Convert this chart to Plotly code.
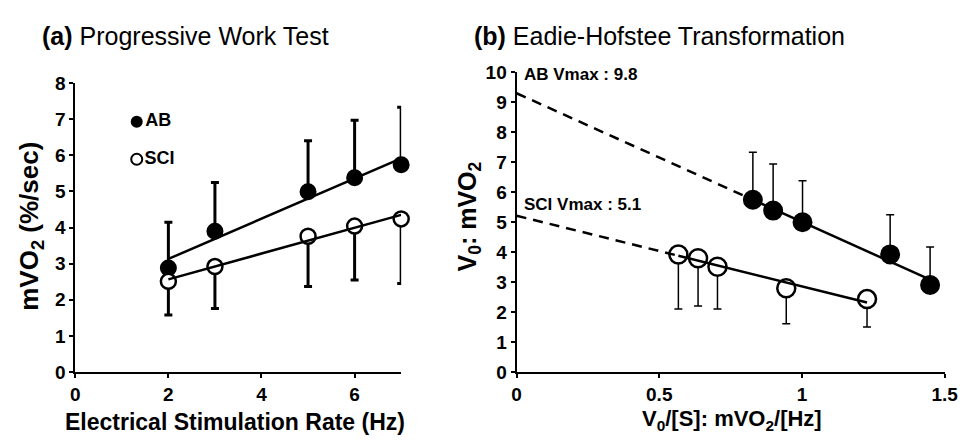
import numpy as np
import plotly.graph_objects as go

# ---------- data ----------
rate_hz = [2, 3, 5, 6, 7]
ab_vo2 = [2.88, 3.90, 4.99, 5.38, 5.74]
ab_err_up = [1.27, 1.35, 1.41, 1.59, 1.59]
sci_vo2 = [2.51, 2.92, 3.76, 4.04, 4.24]
sci_err_down = [0.93, 1.16, 1.39, 1.49, 1.79]

ab_vs = [0.828, 0.899, 1.002, 1.309, 1.449]
ab_v = [5.74, 5.38, 4.99, 3.92, 2.90]
ab_v_err_up = [1.58, 1.55, 1.38, 1.32, 1.27]
sci_vs = [0.567, 0.636, 0.704, 0.945, 1.228]
sci_v = [3.92, 3.79, 3.51, 2.79, 2.43]
sci_v_err_down = [1.82, 1.59, 1.41, 1.18, 0.93]

xa_ticks = [0, 2, 4, 6]
ya_ticks = list(range(9))
xb_ticks = [0, 0.5, 1, 1.5]
xb_ticktext = ["0", "0.5", "1", "1.5"]
yb_ticks = list(range(11))

ab_vmax_label = "AB Vmax : 9.8"
sci_vmax_label = "SCI Vmax : 5.1"

FONT = "Liberation Sans, Arial, sans-serif"
TICK = 19
zeros = [0] * 5

fig = go.Figure()


def fit(x, y):
    s, b = np.polyfit(x, y, 1)
    return s, b


def bold(labels):
    return [f"<b>{t}</b>" for t in labels]


# ---------- panel (a) ----------
fig.add_trace(go.Scatter(
    x=rate_hz, y=ab_vo2, mode="markers", name="AB", xaxis="x", yaxis="y",
    marker=dict(size=15, color="black", line=dict(color="black", width=2)),
    error_y=dict(type="data", symmetric=False, array=ab_err_up, arrayminus=zeros,
                 color="black", thickness=3, width=4),
    cliponaxis=False, showlegend=False))
fig.add_trace(go.Scatter(
    x=rate_hz, y=sci_vo2, mode="markers", name="SCI", xaxis="x", yaxis="y",
    marker=dict(size=15, color="white", line=dict(color="black", width=2.5)),
    error_y=dict(type="data", symmetric=False, array=zeros, arrayminus=sci_err_down,
                 color="black", thickness=3, width=4),
    cliponaxis=False, showlegend=False))
for y in (ab_vo2, sci_vo2):
    s, b = fit(rate_hz, y)
    xs = [min(rate_hz), max(rate_hz)]
    fig.add_trace(go.Scatter(x=xs, y=[s * v + b for v in xs], mode="lines",
                             xaxis="x", yaxis="y", line=dict(color="black", width=2.5),
                             showlegend=False, hoverinfo="skip", cliponaxis=False))

# legend symbols for panel (a)
fig.add_trace(go.Scatter(x=[1.32], y=[6.93], mode="markers+text", text=["<b>AB</b>"],
                         textposition="middle right", xaxis="x", yaxis="y",
                         textfont=dict(family=FONT, size=18, color="black"),
                         marker=dict(size=12, color="black"), showlegend=False,
                         hoverinfo="skip"))
fig.add_trace(go.Scatter(x=[1.32], y=[5.89], mode="markers+text", text=["<b>SCI</b>"],
                         textposition="middle right", xaxis="x", yaxis="y",
                         textfont=dict(family=FONT, size=18, color="black"),
                         marker=dict(size=11, color="white", line=dict(color="black", width=2)),
                         showlegend=False, hoverinfo="skip"))

# ---------- panel (b) ----------
fig.add_trace(go.Scatter(
    x=ab_vs, y=ab_v, mode="markers", xaxis="x2", yaxis="y2",
    marker=dict(size=18, color="black", line=dict(color="black", width=2)),
    error_y=dict(type="data", symmetric=False, array=ab_v_err_up, arrayminus=zeros,
                 color="black", thickness=1.5, width=4),
    cliponaxis=False, showlegend=False))
fig.add_trace(go.Scatter(
    x=sci_vs, y=sci_v, mode="markers", xaxis="x2", yaxis="y2",
    marker=dict(size=18, color="white", line=dict(color="black", width=2.5)),
    error_y=dict(type="data", symmetric=False, array=zeros, arrayminus=sci_v_err_down,
                 color="black", thickness=1.5, width=4),
    cliponaxis=False, showlegend=False))
for xv, yv in ((ab_vs, ab_v), (sci_vs, sci_v)):
    s, b = fit(xv, yv)
    xs = [min(xv), max(xv)]
    fig.add_trace(go.Scatter(x=xs, y=[s * v + b for v in xs], mode="lines",
                             xaxis="x2", yaxis="y2", line=dict(color="black", width=2.5),
                             showlegend=False, hoverinfo="skip", cliponaxis=False))
    xd = [0, min(xv)]
    fig.add_trace(go.Scatter(x=xd, y=[s * v + b for v in xd], mode="lines",
                             xaxis="x2", yaxis="y2",
                             line=dict(color="black", width=2.5, dash="10px,7px"),
                             showlegend=False, hoverinfo="skip", cliponaxis=False))


def axis(**kw):
    d = dict(showline=True, linecolor="black", linewidth=2, ticks="outside",
             ticklen=4, tickwidth=2, tickcolor="black", showgrid=False,
             zeroline=False, tickfont=dict(family=FONT, size=TICK, color="black"),
             fixedrange=True, tickmode="array")
    d.update(kw)
    return d


fig.update_layout(
    width=975, height=444, margin=dict(l=0, r=0, t=0, b=0),
    font=dict(family=FONT, size=TICK, color="black"),
    paper_bgcolor="white", plot_bgcolor="white", showlegend=False,
    xaxis=axis(domain=[0.0735, 0.4144], range=[0, 7], tickvals=xa_ticks,
               ticktext=bold(xa_ticks), anchor="y"),
    yaxis=axis(domain=[0.1441, 0.8273], range=[0, 8], tickvals=ya_ticks,
               ticktext=bold(ya_ticks), anchor="x"),
    xaxis2=axis(domain=[0.5351, 0.9829], range=[0, 1.5], tickvals=xb_ticks,
                ticktext=bold(xb_ticktext), anchor="y2"),
    yaxis2=axis(domain=[0.1441, 0.8536], range=[0, 10], tickvals=yb_ticks,
                ticktext=bold(yb_ticks), anchor="x2"),
)

fig.update_layout(annotations=[
    dict(text="<b>(a)</b> Progressive Work Test", x=36 / 975, y=1 - 27 / 444,
         xref="paper", yref="paper", xanchor="left", yanchor="middle", showarrow=False,
         font=dict(family=FONT, size=25, color="black")),
    dict(text="<b>(b)</b> Eadie-Hofstee Transformation", x=476 / 975, y=1 - 27 / 444,
         xref="paper", yref="paper", xanchor="left", yanchor="middle", showarrow=False,
         font=dict(family=FONT, size=25, color="black")),
    dict(text="<b>Electrical Stimulation Rate (Hz)</b>", x=235 / 975, y=1 - 432 / 444,
         xref="paper", yref="paper", xanchor="center", yanchor="middle", showarrow=False,
         font=dict(family=FONT, size=23, color="black")),
    dict(text="<b>V<sub>0</sub>/[S]: mVO<sub>2</sub>/[Hz]</b>", x=741 / 975, y=1 - 430 / 444,
         xref="paper", yref="paper", xanchor="center", yanchor="middle", showarrow=False,
         font=dict(family=FONT, size=22, color="black")),
    dict(text="<b>mVO<sub>2</sub> (%/sec)</b>", x=26 / 975, y=1 - 227 / 444,
         xref="paper", yref="paper", xanchor="center", yanchor="middle", showarrow=False,
         textangle=-90, font=dict(family=FONT, size=26, color="black")),
    dict(text="<b>V<sub>0</sub>: mVO<sub>2</sub></b>", x=473 / 975, y=1 - 217 / 444,
         xref="paper", yref="paper", xanchor="center", yanchor="middle", showarrow=False,
         textangle=-90, font=dict(family=FONT, size=25, color="black")),
    dict(text=f"<b>{ab_vmax_label}</b>", x=0.02, y=9.9, xref="x2", yref="y2",
         xanchor="left", yanchor="middle", showarrow=False,
         font=dict(family=FONT, size=17, color="black")),
    dict(text=f"<b>{sci_vmax_label}</b>", x=0.02, y=5.59, xref="x2", yref="y2",
         xanchor="left", yanchor="middle", showarrow=False,
         font=dict(family=FONT, size=17, color="black")),
])

fig.write_html("out.html", config={"displayModeBar": False})
